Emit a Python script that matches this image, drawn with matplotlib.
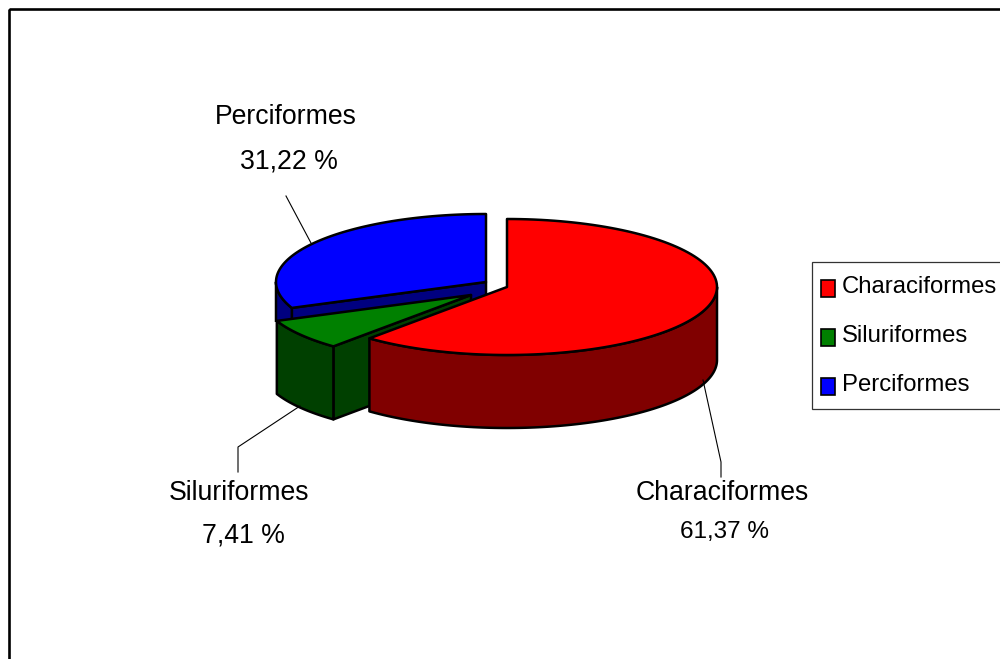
import matplotlib
matplotlib.use("Agg")
import matplotlib.pyplot as plt
import numpy as np
from matplotlib.patches import Polygon, Rectangle

plt.rcParams["font.family"] = ["Liberation Sans"]

# data
orders = ["Characiformes", "Siluriformes", "Perciformes"]
shares = [61.37, 7.41, 31.22]
top_colors = ["#ff0000", "#008000", "#0000ff"]
side_colors = ["#800000", "#004000", "#000080"]

# pie geometry, in pixels of the 1000x659 picture
RX, RY = 210, 68
DEPTH = 73
apexes = [(507, 287), (471, 295), (486, 282)]
label_pos = [(722, 493), (239, 493), (286, 117)]
value_pos = [(725, 532), (243, 535), (289, 162)]
leaders = [
    [(703, 380), (721, 462), (721, 477)],
    [(238, 472), (238, 447), (300, 406)],
    [(286, 196), (311, 243)],
]
LW = 1.8
FS_LABEL = 19.2
FS_VALUE = [17.5, 19.2, 19.2]  # the 61,37 % label is smaller in the original
FS_LEGEND = 17.2


def rim(apex, a, b, n=120):
    t = np.radians(np.linspace(a, b, n))
    return np.column_stack([apex[0] + RX * np.sin(t), apex[1] - RY * np.cos(t)])


def draw_slice(ax, i, start, end):
    apex = apexes[i]
    edge = dict(edgecolor="black", linewidth=LW, joinstyle="round")
    sides = []
    # cut face along the starting angle, only turned to the viewer for green and blue
    if i > 0:
        p = rim(apex, start, start, 1)[0]
        face = [apex, tuple(p), (p[0], p[1] + DEPTH), (apex[0], apex[1] + DEPTH)]
        sides.append(ax.add_patch(Polygon(face, facecolor=side_colors[i], **edge)))
    # outer wall
    a, b = max(start, 90), min(end, 270)
    if b > a:
        arc = rim(apex, a, b)
        wall = np.vstack([arc, arc[::-1] + [0, DEPTH]])
        sides.append(ax.add_patch(Polygon(wall, facecolor=side_colors[i], **edge)))
    # top
    top = np.vstack([[apex], rim(apex, start, end)])
    ax.add_patch(Polygon(top, facecolor=top_colors[i], **edge))
    return sides


fig = plt.figure(figsize=(10, 6.59), dpi=100)
ax = fig.add_axes([0, 0, 1, 1])
ax.set_xlim(0, 1000)
ax.set_ylim(659, 0)
ax.axis("off")

# outer frame runs off the right and bottom of the picture
ax.add_patch(Rectangle((8.5, 8.5), 1100, 800, fill=False, edgecolor="black", linewidth=1.9))

angles = np.concatenate([[0], np.cumsum(shares) / np.sum(shares) * 360])
for i in (2, 1, 0):
    sides = draw_slice(ax, i, angles[i], angles[i + 1])
    if i == 2:
        # the blue walls stop where the green slice starts
        clip = Rectangle((0, 0), 1000, 322, transform=ax.transData)
        for s in sides:
            s.set_clip_path(clip)

# leader lines and labels
for i, name in enumerate(orders):
    xs, ys = zip(*leaders[i])
    ax.plot(xs, ys, color="black", linewidth=0.8)
    ax.text(*label_pos[i], name, fontsize=FS_LABEL, ha="center", va="center")
    ax.text(*value_pos[i], f"{shares[i]:.2f} %".replace(".", ","), fontsize=FS_VALUE[i],
            ha="center", va="center")

# legend box
ax.add_patch(Rectangle((811.5, 261.5), 300, 147, facecolor="white", edgecolor="#333333", linewidth=0.9))
for i, name in enumerate(orders):
    y = 288 + i * 49
    ax.add_patch(Rectangle((821, y - 8.5), 13.5, 17, facecolor=top_colors[i], edgecolor="black", linewidth=1.2))
    ax.text(842, y - 1, name, fontsize=FS_LEGEND, ha="left", va="center")

fig.savefig("out.png", dpi=100)
